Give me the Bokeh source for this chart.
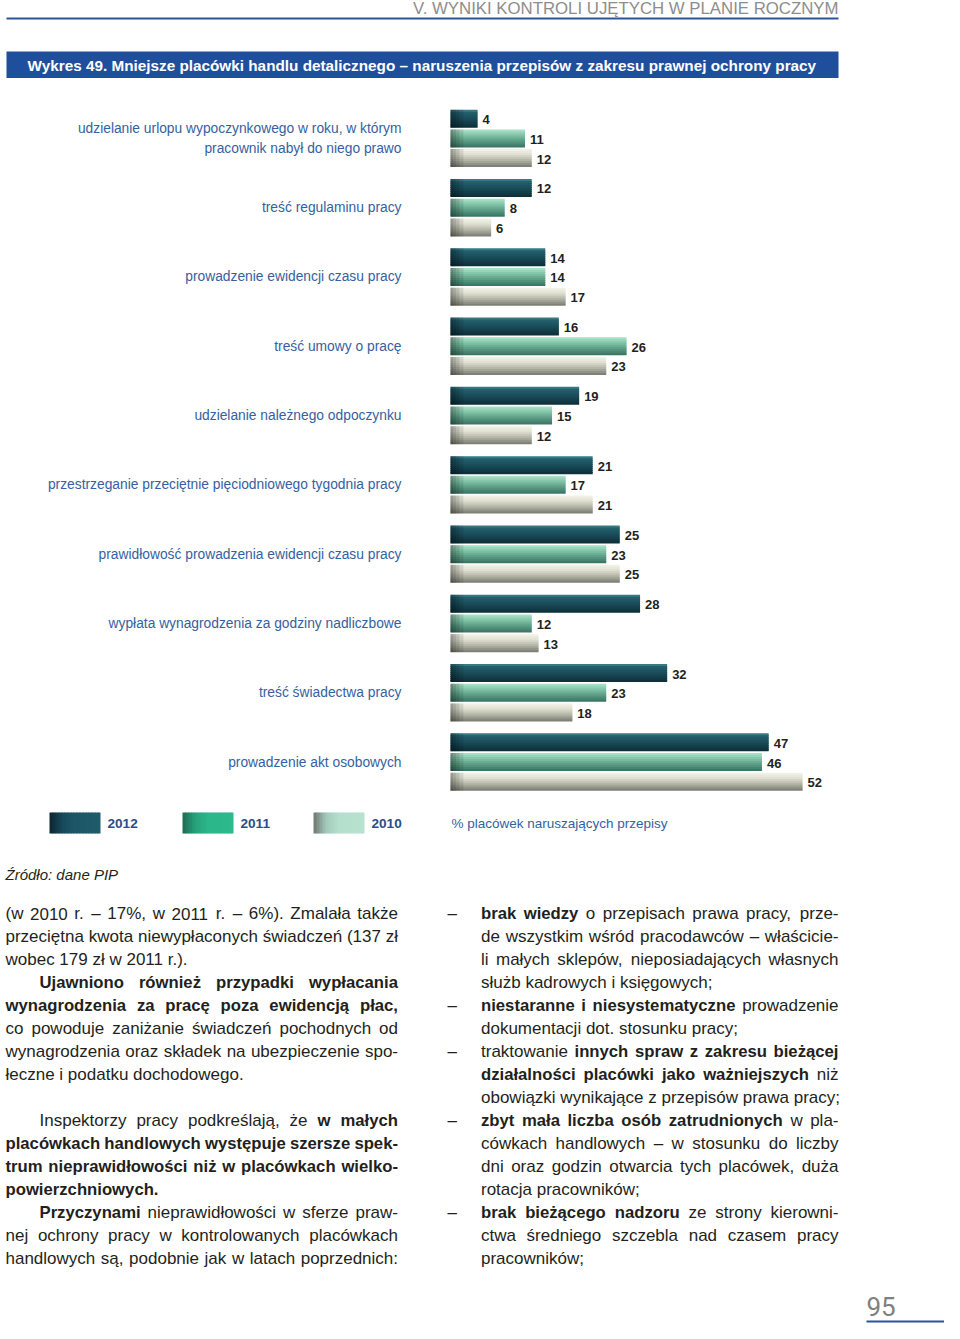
from bokeh.plotting import figure
from bokeh.models import Range1d
from bokeh.core.properties import value
from bokeh.embed import file_html
from bokeh.resources import INLINE

# ---------------- data ----------------
categories = [
    "udzielanie urlopu wypoczynkowego w roku, w którym\npracownik nabył do niego prawo",
    "treść regulaminu pracy",
    "prowadzenie ewidencji czasu pracy",
    "treść umowy o pracę",
    "udzielanie należnego odpoczynku",
    "przestrzeganie przeciętnie pięciodniowego tygodnia pracy",
    "prawidłowość prowadzenia ewidencji czasu pracy",
    "wypłata wynagrodzenia za godziny nadliczbowe",
    "treść świadectwa pracy",
    "prowadzenie akt osobowych",
]
years = ["2012", "2011", "2010"]
v2012 = [4, 12, 14, 16, 19, 21, 25, 28, 32, 47]
v2011 = [11, 8, 14, 26, 15, 17, 23, 12, 23, 46]
v2010 = [12, 6, 17, 23, 12, 21, 25, 13, 18, 52]
series = [v2012, v2011, v2010]

header_text = "V. WYNIKI KONTROLI UJĘTYCH W PLANIE ROCZNYM"
title_text = ("Wykres 49. Mniejsze placówki handlu detalicznego \u2013 naruszenia "
              "przepisów z zakresu prawnej ochrony pracy")
axis_note = "% placówek naruszających przepisy"
source_text = "Źródło: dane PIP"
page_number = "95"

# body text: (row, indent/dash, parts[(text, bold)], justified)
left_col = [
    (0, 0, [("(w 2010 r. \u2013 17%, w 2011 r. \u2013 6%). Zmalała także", 0)], 1),
    (1, 0, [("przeciętna kwota niewypłaconych świadczeń (137 zł", 0)], 1),
    (2, 0, [("wobec 179 zł w 2011 r.).", 0)], 0),
    (3, 1, [("Ujawniono również przypadki wypłacania", 1)], 1),
    (4, 0, [("wynagrodzenia za pracę poza ewidencją płac,", 1)], 1),
    (5, 0, [("co powoduje zaniżanie świadczeń pochodnych od", 0)], 1),
    (6, 0, [("wynagrodzenia oraz składek na ubezpieczenie spo-", 0)], 1),
    (7, 0, [("łeczne i podatku dochodowego.", 0)], 0),
    (9, 1, [("Inspektorzy pracy podkreślają, że", 0), ("w małych", 1)], 1),
    (10, 0, [("placówkach handlowych występuje szersze spek-", 1)], 1),
    (11, 0, [("trum nieprawidłowości niż w placówkach wielko-", 1)], 1),
    (12, 0, [("powierzchniowych.", 1)], 0),
    (13, 1, [("Przyczynami", 1), ("nieprawidłowości w sferze praw-", 0)], 1),
    (14, 0, [("nej ochrony pracy w kontrolowanych placówkach", 0)], 1),
    (15, 0, [("handlowych są, podobnie jak w latach poprzednich:", 0)], 1),
]
right_col = [
    (0, 1, [("brak wiedzy", 1), ("o przepisach prawa pracy, prze-", 0)], 1),
    (1, 0, [("de wszystkim wśród pracodawców \u2013 właścicie-", 0)], 1),
    (2, 0, [("li małych sklepów, nieposiadających własnych", 0)], 1),
    (3, 0, [("służb kadrowych i księgowych;", 0)], 0),
    (4, 1, [("niestaranne i niesystematyczne", 1), ("prowadzenie", 0)], 1),
    (5, 0, [("dokumentacji dot. stosunku pracy;", 0)], 0),
    (6, 1, [("traktowanie", 0), ("innych spraw z zakresu bieżącej", 1)], 1),
    (7, 0, [("działalności placówki jako ważniejszych", 1), ("niż", 0)], 1),
    (8, 0, [("obowiązki wynikające z przepisów prawa pracy;", 0)], 0),
    (9, 1, [("zbyt mała liczba osób zatrudnionych", 1), ("w pla-", 0)], 1),
    (10, 0, [("cówkach handlowych \u2013 w stosunku do liczby", 0)], 1),
    (11, 0, [("dni oraz godzin otwarcia tych placówek, duża", 0)], 1),
    (12, 0, [("rotacja pracowników;", 0)], 0),
    (13, 1, [("brak bieżącego nadzoru", 1), ("ze strony kierowni-", 0)], 1),
    (14, 0, [("ctwa średniego szczebla nad czasem pracy", 0)], 1),
    (15, 0, [("pracowników;", 0)], 0),
]

# ---------------- styling / layout ----------------
FONT = "Liberation Sans"
BLUE_TXT = "#3561a0"
BLUE_DARK = "#2a4d8c"
TXT = "#231f20"
X0 = 450.0      # bar origin on page (px)
PXU = 6.77      # px per percent
G0 = 137.9      # centre of first group (page px)
GSTEP = 69.29
BSTEP = 19.7
BAR_H = 18.0
W, H = 944, 1323

# text metrics (Arial compatible) used only for justification
_lc = "abcdefghijklmnopqrstuvwxyz"
_uc = _lc.upper()
REG = dict(zip(_lc, [556, 556, 500, 556, 556, 278, 556, 556, 222, 222, 500, 222, 833, 556, 556,
                      556, 556, 333, 500, 278, 556, 500, 722, 500, 500, 500]))
REG.update(zip(_uc, [667, 667, 722, 722, 667, 611, 778, 722, 278, 500, 667, 556, 833, 722, 778,
                      667, 778, 722, 667, 611, 722, 667, 944, 667, 667, 611]))
BLD = dict(zip(_lc, [556, 611, 556, 611, 556, 333, 611, 611, 278, 278, 556, 278, 889, 611, 611,
                      611, 611, 389, 556, 333, 611, 556, 778, 556, 556, 500]))
BLD.update(zip(_uc, [722, 722, 722, 722, 667, 611, 778, 722, 278, 556, 722, 611, 833, 722, 778,
                      667, 778, 722, 667, 611, 722, 667, 944, 667, 667, 611]))
for d in (REG, BLD):
    d.update({c: 556 for c in "0123456789"})
    d.update({" ": 278, ",": 278, ".": 278, "-": 333, "(": 333, ")": 333, "%": 889, "\u2013": 556})
REG.update({":": 278, ";": 278})
BLD.update({":": 333, ";": 333})
ACC = dict(zip("ąćęłńóśźżĄĆĘŁŃÓŚŹŻ", "acelnoszzACELNOSZZ"))


def tw(s, bold, size):
    tab = BLD if bold else REG
    return sum(tab.get(ACC.get(c, c), 556) for c in s) * size / 1000.0


def hex2rgb(h):
    h = h.lstrip("#")
    return tuple(int(h[i:i + 2], 16) for i in (0, 2, 4))


def grad(stops, n):
    out = []
    for k in range(n):
        t = (k + 0.5) / n
        for (p0, c0), (p1, c1) in zip(stops, stops[1:]):
            if p0 <= t <= p1:
                f = (t - p0) / (p1 - p0)
                a, b = hex2rgb(c0), hex2rgb(c1)
                out.append("#%02x%02x%02x" % tuple(round(a[i] + (b[i] - a[i]) * f) for i in range(3)))
                break
    return out


p = figure(width=W, height=H, x_range=Range1d(0, W), y_range=Range1d(H, 0),
           output_backend="svg", toolbar_location=None, min_border=0,
           x_axis_type=None, y_axis_type=None)
p.outline_line_color = None
p.background_fill_color = "white"
p.border_fill_color = "white"
p.extra_x_ranges = {"pct": Range1d(start=(0 - X0) / PXU, end=(W - X0) / PXU)}


def T(x, y, s, size=17, color=TXT, style="normal", align="left", baseline="middle", font=FONT):
    p.text(x=[x], y=[y], text=[s], text_font=value(font), text_font_size=f"{size}px",
           text_color=color, text_font_style=style, text_align=align, text_baseline=baseline)


# ---- page header ----
T(838, 8, header_text, size=16.8, color="#8d8d8d", align="right")
p.segment(x0=[6], y0=[18], x1=[838], y1=[18], line_color="#2c5597", line_width=2)

# ---- title bar ----
p.quad(left=[6], right=[838], top=[51], bottom=[77.5], fill_color="#1f4f9c", line_color=None)
T(27, 64.5, title_text, size=15.3, color="white", style="bold")

# ---- bars ----
bar_stops = [
    [(0, "#4a8c9a"), (0.12, "#25626f"), (0.5, "#1a4d5a"), (1, "#0c2d37")],
    [(0, "#b0e4cb"), (0.3, "#82c6a8"), (0.6, "#5fa088"), (1, "#387260")],
    [(0, "#f4f5ea"), (0.3, "#dfe0d0"), (0.65, "#afb1a3"), (1, "#77786e")],
]
NS = 9
sh = BAR_H / NS
for j, vals in enumerate(series):
    yc = [G0 + i * GSTEP + (j - 1) * BSTEP for i in range(len(vals))]
    cols = grad(bar_stops[j], NS)
    for k in range(NS):
        yk = [c - BAR_H / 2 + (k + 0.5) * sh for c in yc]
        hh = sh + (0.9 if k < NS - 1 else 0.0)
        yk2 = [y + (hh - sh) / 2 for y in yk]
        p.hbar(y=yk2, height=hh, left=0, right=vals, fill_color=cols[k],
               line_color=None, x_range_name="pct")
    for w in (0.35, 0.8, 1.3, 1.9):
        p.hbar(y=yc, height=BAR_H, left=0, right=[min(w, v) for v in vals],
               fill_color="black", fill_alpha=0.1, line_color=None, x_range_name="pct")
    p.text(x=vals, y=[c + 1 for c in yc], text=[str(v) for v in vals], x_offset=5,
           x_range_name="pct", text_font=value(FONT), text_font_size="13px",
           text_font_style="bold", text_color=TXT, text_baseline="middle", text_align="left")

# ---- category labels ----
for i, cat in enumerate(categories):
    mid = G0 + i * GSTEP
    lines = cat.split("\n")
    n = len(lines)
    for li, ln in enumerate(lines):
        T(401, mid + (li - (n - 1) / 2) * 20, ln, size=13.8, color=BLUE_TXT, align="right")

# ---- legend ----
sw_x = [49, 182, 313]
sw_stops = [
    [(0, "#0a2630"), (0.25, "#17495a"), (0.5, "#1d5767"), (1, "#1f5b6b")],
    [(0, "#1d6b52"), (0.25, "#27a27b"), (0.5, "#2cb68a"), (1, "#2db98c")],
    [(0, "#6f7570"), (0.25, "#a3cbbb"), (0.5, "#b5dfcd"), (1, "#b8e2d0")],
]
NSW = 17
for j, x in enumerate(sw_x):
    cols = grad(sw_stops[j], NSW)
    wdt = 51.0 / NSW
    p.quad(left=[x + k * wdt for k in range(NSW)],
           right=[x + (k + 1) * wdt + (0.9 if k < NSW - 1 else 0) for k in range(NSW)],
           top=[812] * NSW, bottom=[833] * NSW, fill_color=cols, line_color=None)
    T(x + 58, 823, years[j], size=13.6, color=BLUE_DARK, style="bold")
T(451, 823, axis_note, size=13.5, color=BLUE_TXT)

# ---- source ----
T(5, 874, source_text, size=15, color=TXT, style="italic")

# ---- body text ----
RS, BS = 17, 16.7
acc = {0: dict(x=[], y=[], text=[]), 1: dict(x=[], y=[], text=[])}


def add(x, y, s, b):
    acc[b]["x"].append(x)
    acc[b]["y"].append(y)
    acc[b]["text"].append(s)


def size_of(b):
    return BS if b else RS


def place(xl, xr, y, parts, just):
    if just:
        words = [(w, b) for s, b in parts for w in s.split(" ")]
        ws = [tw(w, b, size_of(b)) for w, b in words]
        gap = (xr - xl - sum(ws)) / (len(words) - 1)
        x = xl
        for (w, b), wd in zip(words, ws):
            add(x, y, w, b)
            x += wd + gap
    else:
        x = xl
        for s, b in parts:
            add(x, y, s, b)
            x += tw(s + " ", b, size_of(b))


BASE0 = 913.0
LSTEP = 23.0
for row, ind, parts, just in left_col:
    place(5 + (34 if ind else 0), 397.5, BASE0 + row * LSTEP, parts, just)
for row, dash, parts, just in right_col:
    y = BASE0 + row * LSTEP
    if dash:
        add(447, y, "\u2013", 0)
    place(480.5, 838, y, parts, just)

for b in (0, 1):
    p.text(x=acc[b]["x"], y=acc[b]["y"], text=acc[b]["text"], text_font=value(FONT),
           text_font_size=f"{size_of(b)}px", text_font_style="bold" if b else "normal",
           text_color=TXT, text_align="left", text_baseline="middle")

# ---- page number ----
T(866, 1306, page_number, size=26, color="#808080", font="Roboto")
p.segment(x0=[866], y0=[1321], x1=[958], y1=[1321], line_color="#2c5597", line_width=2)

open("out.html", "w").write(file_html(p, INLINE))
